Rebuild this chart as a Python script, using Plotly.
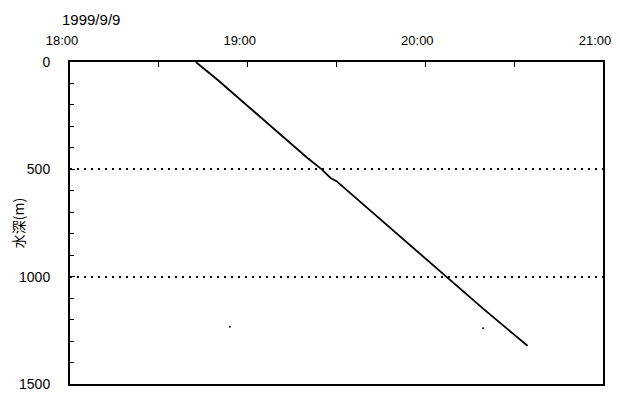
import plotly.graph_objects as go

# descent profile
times = ["1999-09-09 18:42:30", "1999-09-09 18:50", "1999-09-09 19:00", "1999-09-09 19:10",
         "1999-09-09 19:20", "1999-09-09 19:25", "1999-09-09 19:28", "1999-09-09 19:30",
         "1999-09-09 19:40", "1999-09-09 19:50", "1999-09-09 20:00", "1999-09-09 20:07",
         "1999-09-09 20:10", "1999-09-09 20:20", "1999-09-09 20:30", "1999-09-09 20:34:30"]
depths = [0, 85, 205, 325, 445, 500, 540, 555, 675, 795, 915, 1000, 1035, 1155, 1270, 1322]

dot_times = ["1999-09-09 18:54", "1999-09-09 20:19:30"]
dot_depths = [1233, 1240]

x_ticks = ["1999-09-09 18:00", "1999-09-09 19:00", "1999-09-09 20:00", "1999-09-09 21:00"]
x_minor = ["1999-09-09 18:30", "1999-09-09 19:30", "1999-09-09 20:30"]
y_ticks = [0, 500, 1000, 1500]

fig = go.Figure()
fig.add_trace(go.Scatter(x=times, y=depths, mode="lines",
                         line=dict(color="black", width=1.8), showlegend=False))
fig.add_trace(go.Scatter(x=dot_times, y=dot_depths, mode="markers",
                         marker=dict(color="black", size=2), showlegend=False))

font = dict(family="Liberation Sans, Noto Sans CJK JP", size=14, color="black")
xfont = dict(family="Liberation Sans", size=13, color="black")
# the page body adds an 8px margin, so the figure is 8px smaller
fig.update_layout(
    width=612, height=386,
    margin=dict(l=62, r=17, t=54, b=10),
    paper_bgcolor="white", plot_bgcolor="white",
    font=font,
    xaxis=dict(type="date", side="top", automargin=False,
               range=["1999-09-09 18:00", "1999-09-09 21:00"],
               tickvals=x_ticks,
               tickformat="%H:%M", ticks="inside", ticklen=5, tickcolor="black",
               ticklabelstandoff=10, ticklabelshift=-8, ticklabeloverflow="allow",
               minor=dict(tickvals=x_minor, ticks="inside", ticklen=5, tickcolor="black"),
               showgrid=False, showline=True, linecolor="black", linewidth=2, mirror=True,
               zeroline=False, tickfont=xfont),
    yaxis=dict(range=[1500, 0], tickvals=y_ticks, automargin=False,
               ticks="inside", ticklen=5, tickcolor="black",
               ticklabelstandoff=15,
               minor=dict(dtick=100, ticks="inside", ticklen=4, tickcolor="black", showgrid=False),
               showgrid=True, gridcolor="black", griddash="2px,5px", gridwidth=1.5,
               showline=True, linecolor="black", linewidth=2, mirror=True,
               zeroline=False, tickfont=font,
               title=dict(text="水深(m)", font=dict(family="Noto Sans CJK JP", size=14), standoff=4)),
    annotations=[dict(text="1999/9/9", xref="x domain", yref="y domain",
                      x=-0.019, y=1.1335, xanchor="left", yanchor="middle",
                      showarrow=False, font=dict(family="Liberation Sans", size=15, color="black"))],
)
fig.write_html("out.html")
